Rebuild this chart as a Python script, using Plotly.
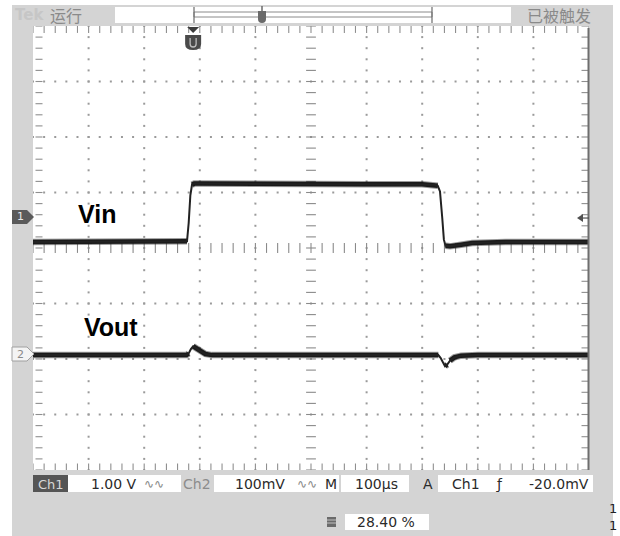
import numpy as np
import plotly.graph_objects as go

# ---------------- data ----------------
# time in microseconds from left graticule edge (100 us / div, 10 div)
vin_time_us = [0, 100, 200, 272, 277, 280, 283, 286, 290, 300, 400, 500, 600,
               700, 722, 728, 732, 736, 739, 742, 750, 770, 790, 850, 1000]
# vertical position in divisions (center of screen = 0)
vin_div = [0.11, 0.11, 0.11, 0.11, 0.12, 0.45, 0.95, 1.14, 1.16, 1.16, 1.15, 1.15, 1.15,
           1.15, 1.14, 1.12, 1.02, 0.55, 0.15, 0.04, 0.03, 0.06, 0.09, 0.11, 0.11]

vout_time_us = [0, 100, 200, 276, 280, 284, 288, 293, 300, 310, 322, 400, 500, 600,
                700, 729, 733, 737, 741, 745, 750, 758, 770, 800, 900, 1000]
vout_div = [-1.93, -1.93, -1.93, -1.93, -1.90, -1.82, -1.77, -1.80, -1.86, -1.91, -1.93,
            -1.93, -1.93, -1.93, -1.93, -1.93, -1.98, -2.07, -2.13, -2.10, -2.03, -1.97,
            -1.94, -1.93, -1.93, -1.93]

ch1_ground_div = 0.56
ch2_ground_div = -1.91
trigger_level_div = 0.54
trigger_pos_us = 288

channel_labels = ["Vin", "Vout"]
run_state = "运行"
trig_state = "已被触发"
ch1_scale = "1.00 V"
ch2_scale = "100mV"
timebase = "100μs"
trig_source = "Ch1"
trig_level = "-20.0mV"
duty_value = "28.40 %"

# ---------------- geometry ----------------
W, H = 620, 536
GX0, GX1, GY0, GY1 = 33, 589, 26, 470      # graticule in pixels
XR = [0, 1000]
YR = [-4, 4]
XPP = (XR[1] - XR[0]) / (GX1 - GX0)
YPP = (YR[1] - YR[0]) / (GY1 - GY0)


def px(x):
    return x / W


def py(y):
    return 1 - y / H


def dx(xpix):
    return XR[0] + (xpix - GX0) * XPP


def dy(ypix):
    return YR[1] - (ypix - GY0) * YPP


fig = go.Figure()

# ---------------- graticule dots & ticks ----------------
dot_x, dot_y = [], []
for t in range(100, 1000, 100):
    if t == 500:
        continue
    for v in np.arange(-4, 4.0001, 0.2):
        dot_x.append(t)
        dot_y.append(v)
for v in [-3, -2, -1, 1, 2, 3]:
    for t in np.arange(0, 1000.001, 20):
        dot_x.append(t)
        dot_y.append(v)
fig.add_trace(go.Scatter(x=dot_x, y=dot_y, mode="markers",
                         marker=dict(symbol="square", size=2, color="#9a9a9a", line_width=0),
                         hoverinfo="skip", showlegend=False))

# centre cross ticks
cx = list(np.arange(0, 1000.001, 20))
fig.add_trace(go.Scatter(x=cx, y=[0] * len(cx), mode="markers",
                         marker=dict(symbol="line-ns", size=7, line=dict(width=1.1, color="#8a8a8a")),
                         hoverinfo="skip", showlegend=False))
cy = list(np.arange(-4, 4.0001, 0.2))
fig.add_trace(go.Scatter(x=[500] * len(cy), y=cy, mode="markers",
                         marker=dict(symbol="line-ew", size=7, line=dict(width=1.1, color="#8a8a8a")),
                         hoverinfo="skip", showlegend=False))

# edge ticks
fig.add_trace(go.Scatter(x=cx, y=[dy(GY0 + 2)] * len(cx), mode="markers",
                         marker=dict(symbol="line-ns", size=7, line=dict(width=1.1, color="#8f8f8f")),
                         hoverinfo="skip", showlegend=False))
fig.add_trace(go.Scatter(x=cx, y=[dy(GY1 - 3)] * len(cx), mode="markers",
                         marker=dict(symbol="line-ns", size=5, line=dict(width=1.1, color="#8f8f8f")),
                         hoverinfo="skip", showlegend=False))
fig.add_trace(go.Scatter(x=[dx(GX0 + 6)] * len(cy), y=cy, mode="markers",
                         marker=dict(symbol="line-ew", size=5, line=dict(width=1.1, color="#8f8f8f")),
                         hoverinfo="skip", showlegend=False))
fig.add_trace(go.Scatter(x=[dx(GX1 - 4)] * len(cy), y=cy, mode="markers",
                         marker=dict(symbol="line-ew", size=5, line=dict(width=1.1, color="#8f8f8f")),
                         hoverinfo="skip", showlegend=False))


# ---------------- waveforms ----------------
def flat_segments(xs, ys):
    """Return the (slow) segments of a trace, where the noise band is visible."""
    fx, fy = [], []
    for i in range(len(xs) - 1):
        dtp = (xs[i + 1] - xs[i]) / XPP
        dvp = abs(ys[i + 1] - ys[i]) / YPP
        if dvp < 1.2 * dtp:
            if fx and fx[-1] is not None and fx[-1] == xs[i]:
                fx.append(xs[i + 1]); fy.append(ys[i + 1])
            else:
                fx += [None, xs[i], xs[i + 1]]; fy += [None, ys[i], ys[i + 1]]
    return fx, fy


for xs, ys in [(vin_time_us, vin_div), (vout_time_us, vout_div)]:
    fx, fy = flat_segments(xs, ys)
    fig.add_trace(go.Scatter(x=fx, y=fy, mode="lines", connectgaps=False,
                             line=dict(color="rgba(30,30,30,0.45)", width=6.5),
                             hoverinfo="skip", showlegend=False))
    fig.add_trace(go.Scatter(x=fx, y=fy, mode="lines", connectgaps=False,
                             line=dict(color="#1a1a1a", width=4.5),
                             hoverinfo="skip", showlegend=False))
    fig.add_trace(go.Scatter(x=xs, y=ys, mode="lines",
                             line=dict(color="#222222", width=2),
                             hoverinfo="skip", showlegend=False))

shapes = []
# grey instrument frame
shapes.append(dict(type="rect", xref="paper", yref="paper", x0=px(12), x1=px(613),
                   y0=py(536), y1=py(5), fillcolor="#d4d4d4", line_width=0, layer="below"))
# white graticule
shapes.append(dict(type="rect", xref="x", yref="y", x0=XR[0], x1=XR[1], y0=YR[0], y1=YR[1],
                   fillcolor="white", line_width=0, layer="below"))
# right edge line of graticule
shapes.append(dict(type="line", xref="paper", yref="paper", x0=px(588.5), x1=px(588.5),
                   y0=py(GY1), y1=py(GY0 + 2), line=dict(color="#6e6e6e", width=2)))
# top bar white box
shapes.append(dict(type="rect", xref="paper", yref="paper", x0=px(115), x1=px(511),
                   y0=py(23), y1=py(7), fillcolor="white", line_width=0, layer="below"))
# record bracket
shapes.append(dict(type="rect", xref="paper", yref="paper", x0=px(194), x1=px(432),
                   y0=py(17), y1=py(12), line=dict(color="#8a8a8a", width=1)))
for xb in (194, 432):
    shapes.append(dict(type="line", xref="paper", yref="paper", x0=px(xb), x1=px(xb),
                       y0=py(23), y1=py(7), line=dict(color="#6a6a6a", width=1.2)))
# trigger marker in record bar
shapes.append(dict(type="path", xref="paper", yref="paper",
                   path=f"M{px(258)},{py(11)} L{px(266)},{py(11)} L{px(266)},{py(19)} "
                        f"Q{px(266)},{py(23)} {px(262)},{py(23)} Q{px(258)},{py(23)} {px(258)},{py(19)} Z",
                   fillcolor="#6a6a6a", line_width=0))
shapes.append(dict(type="line", xref="paper", yref="paper", x0=px(262), x1=px(262),
                   y0=py(11), y1=py(6), line=dict(color="#6a6a6a", width=1.5)))

# trigger position marker (top of graticule)
tp = (trigger_pos_us - XR[0]) / XPP + GX0
shapes.append(dict(type="path", xref="paper", yref="paper",
                   path=f"M{px(tp-6)},{py(27)} L{px(tp+6)},{py(27)} L{px(tp)},{py(33)} Z",
                   fillcolor="#3c3c3c", line_width=0))
shapes.append(dict(type="path", xref="paper", yref="paper",
                   path=f"M{px(tp-8)},{py(35)} L{px(tp+8)},{py(35)} L{px(tp+8)},{py(44)} "
                        f"Q{px(tp+8)},{py(50)} {px(tp)},{py(50)} Q{px(tp-8)},{py(50)} {px(tp-8)},{py(44)} Z",
                   fillcolor="#4a4a4a", line_width=0))
shapes.append(dict(type="path", xref="paper", yref="paper",
                   path=f"M{px(tp-3)},{py(38)} L{px(tp-3)},{py(44)} Q{px(tp-3)},{py(47)} {px(tp)},{py(47)} "
                        f"Q{px(tp+3)},{py(47)} {px(tp+3)},{py(44)} L{px(tp+3)},{py(38)}",
                   line=dict(color="#bdbdbd", width=1.3)))

# channel ground markers (left)
h = 7 * YPP
shapes.append(dict(type="path", xref="paper", yref="y",
                   path=f"M{px(12)},{ch1_ground_div+h} L{px(27)},{ch1_ground_div+h} "
                        f"L{px(34)},{ch1_ground_div} L{px(27)},{ch1_ground_div-h} L{px(12)},{ch1_ground_div-h} Z",
                   fillcolor="#5a5a5a", line_width=0))
shapes.append(dict(type="path", xref="paper", yref="y",
                   path=f"M{px(12)},{ch2_ground_div+h} L{px(27)},{ch2_ground_div+h} "
                        f"L{px(34)},{ch2_ground_div} L{px(27)},{ch2_ground_div-h} L{px(12)},{ch2_ground_div-h} Z",
                   fillcolor="#f4f4f4", line=dict(color="#a0a0a0", width=1)))

# trigger level marker (right)
th = 4 * YPP
shapes.append(dict(type="path", xref="paper", yref="y",
                   path=f"M{px(577)},{trigger_level_div} L{px(583)},{trigger_level_div+th} "
                        f"L{px(583)},{trigger_level_div-th} Z",
                   fillcolor="#505050", line_width=0))
shapes.append(dict(type="line", xref="paper", yref="y", x0=px(583), x1=px(589),
                   y0=trigger_level_div, y1=trigger_level_div, line=dict(color="#505050", width=1.2)))

# bottom readout boxes
BY0, BY1 = 475, 492
shapes.append(dict(type="rect", xref="paper", yref="paper", x0=px(33), x1=px(68),
                   y0=py(BY1), y1=py(BY0), fillcolor="#555555", line_width=0, layer="below"))
for a, b in [(68, 181), (214, 339), (341, 409), (438, 593)]:
    shapes.append(dict(type="rect", xref="paper", yref="paper", x0=px(a), x1=px(b),
                       y0=py(BY1), y1=py(BY0), fillcolor="white", line_width=0, layer="below"))
shapes.append(dict(type="rect", xref="paper", yref="paper", x0=px(345), x1=px(429),
                   y0=py(530), y1=py(514), fillcolor="white", line_width=0, layer="below"))
shapes.append(dict(type="rect", xref="paper", yref="paper", x0=px(327), x1=px(336),
                   y0=py(527), y1=py(517), fillcolor="#6a6a6a", line_width=0))
for yy in (520, 523):
    shapes.append(dict(type="line", xref="paper", yref="paper", x0=px(327), x1=px(336),
                       y0=py(yy), y1=py(yy), line=dict(color="#c0c0c0", width=1)))

ann = []


def txt(x, y, s, size=14, color="#333", family="DejaVu Sans", bold=False, xanchor="center"):
    ann.append(dict(xref="paper", yref="paper", x=px(x), y=py(y), text=(f"<b>{s}</b>" if bold else s),
                    showarrow=False, xanchor=xanchor, yanchor="middle",
                    font=dict(size=size, color=color, family=family)))


# top bar
txt(29, 15, "Tek", 15, "#c6c6c6", "DejaVu Sans", bold=True)
txt(66, 15, run_state, 16, "#8a8a8a", "Noto Sans CJK SC")
txt(593, 15, trig_state, 16, "#8a8a8a", "Noto Sans CJK SC", xanchor="right")

# channel labels
txt(97, 214, channel_labels[0], 25, "#000", "Liberation Sans", bold=True)
txt(111, 327, channel_labels[1], 25, "#000", "Liberation Sans", bold=True)

# ground marker numbers
ann.append(dict(xref="paper", yref="y", x=px(20), y=ch1_ground_div, text="1", showarrow=False,
                font=dict(size=11, color="#e8e8e8", family="DejaVu Sans"), xanchor="center", yanchor="middle"))
ann.append(dict(xref="paper", yref="y", x=px(20), y=ch2_ground_div, text="2", showarrow=False,
                font=dict(size=11, color="#8a8a8a", family="DejaVu Sans"), xanchor="center", yanchor="middle"))

# bottom readout
BY = 484
txt(50.5, BY, "Ch1", 13, "#d8d8d8")
txt(114, BY, ch1_scale, 14, "#2a2a2a")
txt(154, BY, "∿∿", 12, "#8a8a8a")
txt(197, BY, "Ch2", 14, "#8c8c8c")
txt(260, BY, ch2_scale, 14, "#2a2a2a")
txt(307, BY, "∿∿", 12, "#8a8a8a")
txt(331, BY, "M", 14, "#2a2a2a")
txt(376, BY, timebase, 14, "#2a2a2a")
txt(428, BY, "A", 14, "#2a2a2a")
txt(466, BY, trig_source, 14, "#2a2a2a")
txt(500, BY, "ƒ", 14, "#2a2a2a")
txt(591, BY, trig_level, 14, "#2a2a2a", xanchor="right")
txt(386, 522, duty_value, 14, "#2a2a2a")
txt(613, 508, "1", 13, "#222")
txt(613, 525, "1", 13, "#222")

fig.update_layout(
    width=W, height=H,
    margin=dict(l=0, r=0, t=0, b=0, pad=0),
    paper_bgcolor="white", plot_bgcolor="white",
    shapes=shapes, annotations=ann,
    xaxis=dict(range=XR, domain=[px(GX0), px(GX1)], showgrid=False, zeroline=False,
               showticklabels=False, ticks="", showline=False, fixedrange=True),
    yaxis=dict(range=YR, domain=[py(GY1), py(GY0)], showgrid=False, zeroline=False,
               showticklabels=False, ticks="", showline=False, fixedrange=True),
    showlegend=False,
)

fig.write_html("out.html", config={"displayModeBar": False, "staticPlot": True},
               post_script="document.body.style.margin='0';document.body.style.padding='0';")
